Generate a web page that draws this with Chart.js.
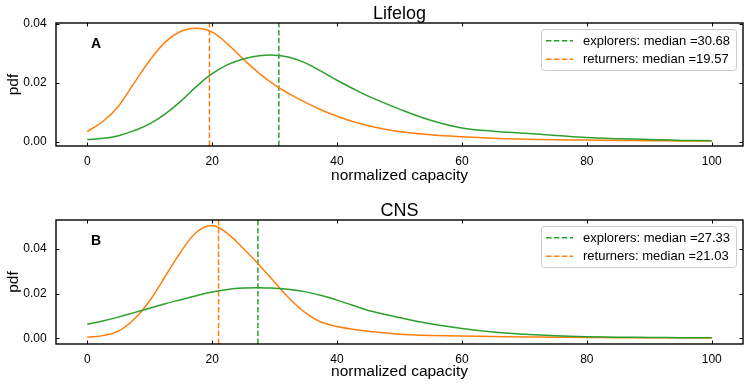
<!DOCTYPE html>
<html><head><meta charset="utf-8">
<script src="https://cdn.jsdelivr.net/npm/chart.js@4"></script>
<style>
html,body{margin:0;padding:0;background:#fff;}
#wrap{position:relative;width:748px;height:387px;overflow:hidden;}
.p{position:absolute;left:0;width:748px;height:193px;}
</style></head><body>
<div id="wrap">
<div class="p" style="top:0"><canvas id="c1" width="748" height="193"></canvas></div>
<div class="p" style="top:194px"><canvas id="c2" width="748" height="193"></canvas></div>
</div>
<script>
// ---- data ----
const capacity = [0, 2.5, 5, 7.5, 10, 12.5, 15, 17.5, 20, 22.5, 25, 27.5, 30, 32.5, 35, 37.5, 40, 42.5, 45, 50, 55, 60, 65, 70, 75, 80, 85, 90, 95, 100];
const lifelogExplorers = [0.0007, 0.0011, 0.0020, 0.0037, 0.0060, 0.0094, 0.0137, 0.0187, 0.0230, 0.0261, 0.0280, 0.0291, 0.0293, 0.0285, 0.0266, 0.0238, 0.0208, 0.0180, 0.0154, 0.0110, 0.0072, 0.0046, 0.0035, 0.0028, 0.0021, 0.0014, 0.0010, 0.0007, 0.0004, 0.0003];
const lifelogReturners = [0.0034, 0.0068, 0.0120, 0.0198, 0.0275, 0.0337, 0.0374, 0.0384, 0.0371, 0.0330, 0.0279, 0.0232, 0.0192, 0.0160, 0.0132, 0.0107, 0.0086, 0.0068, 0.0054, 0.0034, 0.0023, 0.0016, 0.0011, 0.0008, 0.0006, 0.0005, 0.0004, 0.0003, 0.0002, 0.0002];
const cnsExplorers = [0.0063, 0.0078, 0.0095, 0.0115, 0.0135, 0.0155, 0.0173, 0.0191, 0.0207, 0.0219, 0.0225, 0.0227, 0.0224, 0.0219, 0.0208, 0.0192, 0.0171, 0.0148, 0.0125, 0.0093, 0.0065, 0.0044, 0.0028, 0.0018, 0.0011, 0.0007, 0.0005, 0.0004, 0.0003, 0.0003];
const cnsReturners = [0.0005, 0.0012, 0.0032, 0.0085, 0.0168, 0.0278, 0.0388, 0.0475, 0.0505, 0.0468, 0.0402, 0.0330, 0.0252, 0.0175, 0.0113, 0.0072, 0.0053, 0.0041, 0.0032, 0.0018, 0.0013, 0.0010, 0.0008, 0.0006, 0.0005, 0.0004, 0.0003, 0.0002, 0.0002, 0.0001];
const lifelogMedians = [30.68, 19.57];   // explorers, returners
const cnsMedians = [27.33, 21.03];
const seriesNames = ['explorers', 'returners'];
const xTicks = [0, 20, 40, 60, 80, 100];
const lifelogYTicks = [0, 0.02, 0.04];
const cnsYTicks = [0, 0.02, 0.04];
const panelTitles = ['Lifelog', 'CNS'];
const panelLetters = ['A', 'B'];

const GREEN = '#2ca02c', ORANGE = '#ff7f0e';
const FONT = "'Liberation Sans', Arial, Helvetica, sans-serif";
Chart.defaults.font.family = FONT;
Chart.defaults.color = '#000';

function pts(xs, ys) { return xs.map((x, i) => ({x: x, y: ys[i]})); }

const panelPlugin = {
  id: 'panelDeco',
  afterDatasetsDraw(chart) {
    const {ctx, chartArea: a, scales: {x, y}} = chart;
    ctx.save();
    ctx.strokeStyle = '#000';
    ctx.lineWidth = 1;
    ctx.beginPath();
    x.ticks.forEach(t => {
      const px = Math.round(x.getPixelForValue(t.value)) + 0.5;
      ctx.moveTo(px, a.bottom); ctx.lineTo(px, a.bottom - 3.5);
      ctx.moveTo(px, a.top); ctx.lineTo(px, a.top + 3.5);
    });
    y.ticks.forEach(t => {
      const py = Math.round(y.getPixelForValue(t.value)) + 0.5;
      ctx.moveTo(a.left, py); ctx.lineTo(a.left + 3.5, py);
      ctx.moveTo(a.right, py); ctx.lineTo(a.right - 3.5, py);
    });
    ctx.stroke();
    ctx.lineWidth = 1.4;
    ctx.strokeRect(a.left, a.top, a.right - a.left, a.bottom - a.top);
    ctx.restore();
  },
  afterDraw(chart) {
    const o = chart.options.plugins.panelDeco;
    const {ctx, chartArea: a} = chart;
    ctx.save();
    ctx.fillStyle = '#000';
    ctx.font = '18px ' + FONT;
    ctx.textAlign = 'center';
    ctx.textBaseline = 'alphabetic';
    ctx.fillText(o.title, (a.left + a.right) / 2, a.top - 4.5);
    ctx.font = 'bold 14px ' + FONT;
    ctx.textAlign = 'left';
    ctx.fillText(o.letter, 91, a.top + 25.3);
    const bw = 195, bh = 41;
    const bx = a.right - 7 - bw, by = a.top + 6;
    ctx.beginPath();
    if (ctx.roundRect) ctx.roundRect(bx + 0.5, by + 0.5, bw, bh, 3); else ctx.rect(bx + 0.5, by + 0.5, bw, bh);
    ctx.fillStyle = 'rgba(255,255,255,0.8)';
    ctx.fill();
    ctx.strokeStyle = '#cccccc';
    ctx.lineWidth = 1;
    ctx.stroke();
    const meds = chart.data.datasets.filter(d => d.isMedian);
    ctx.font = '13px ' + FONT;
    ctx.textBaseline = 'middle';
    meds.forEach((d, i) => {
      const cy = by + 11.7 + i * 18.5;
      ctx.strokeStyle = d.borderColor;
      ctx.lineWidth = 1.5;
      ctx.setLineDash([5.5, 2.4]);
      ctx.beginPath();
      ctx.moveTo(bx + 5, cy); ctx.lineTo(bx + 32, cy);
      ctx.stroke();
      ctx.setLineDash([]);
      ctx.fillStyle = '#000';
      ctx.fillText(d.label, bx + 42, cy + 0.5);
    });
    ctx.restore();
  }
};

function makePanel(id, o) {
  const curve = (ys, color) => ({
    data: pts(capacity, ys), borderColor: color, borderWidth: 1.5,
    pointRadius: 0, fill: false, tension: 0.4
  });
  const median = (m, name, color) => ({
    isMedian: true, label: name + ': median =' + m.toFixed(2),
    data: [{x: m, y: o.yMin}, {x: m, y: o.yMax}], borderColor: color,
    borderWidth: 1.5, borderDash: [5.5, 2.4], pointRadius: 0, fill: false
  });
  new Chart(document.getElementById(id), {
    type: 'line',
    data: {datasets: [
      curve(o.explorers, GREEN), curve(o.returners, ORANGE),
      median(o.medians[0], seriesNames[0], GREEN), median(o.medians[1], seriesNames[1], ORANGE)
    ]},
    options: {
      responsive: false, animation: false, events: [],
      layout: {padding: {top: o.padTop, right: 5, left: 0, bottom: 0}},
      plugins: {legend: {display: false}, tooltip: {enabled: false}, title: {display: false},
        panelDeco: {title: o.title, letter: o.letter}},
      scales: {
        x: {type: 'linear', min: -5, max: 105,
          grid: {display: false, drawTicks: false}, border: {display: false},
          afterBuildTicks: s => { s.ticks = xTicks.map(v => ({value: v})); },
          afterFit: s => { s.height = o.xAxisH; },
          ticks: {padding: 8.5, font: {size: 12}, color: '#000', maxRotation: 0, autoSkip: false,
            callback: v => String(v)},
          title: {display: true, text: 'normalized capacity', font: {size: 15.5}, color: '#000',
            padding: {top: 0, bottom: o.xTitlePad}}
        },
        y: {type: 'linear', min: o.yMin, max: o.yMax,
          grid: {display: false, drawTicks: false}, border: {display: false},
          afterBuildTicks: s => { s.ticks = o.yTicks.map(v => ({value: v})); },
          afterFit: s => { s.width = 56; },
          ticks: {padding: 9.3, font: {size: 12}, color: '#000', callback: v => v.toFixed(2)},
          title: {display: true, text: 'pdf', font: {size: 15.5}, color: '#000',
            padding: {top: 4, bottom: 0}}
        }
      }
    },
    plugins: [panelPlugin]
  });
}

makePanel('c1', {title: panelTitles[0], letter: panelLetters[0], explorers: lifelogExplorers,
  returners: lifelogReturners, medians: lifelogMedians, yTicks: lifelogYTicks,
  yMin: -0.0015, yMax: 0.0402, padTop: 23, xAxisH: 47, xTitlePad: 8.1});
makePanel('c2', {title: panelTitles[1], letter: panelLetters[1], explorers: cnsExplorers,
  returners: cnsReturners, medians: cnsMedians, yTicks: cnsYTicks,
  yMin: -0.00255, yMax: 0.053, padTop: 26, xAxisH: 43, xTitlePad: 6.4});
</script>
</body></html>
